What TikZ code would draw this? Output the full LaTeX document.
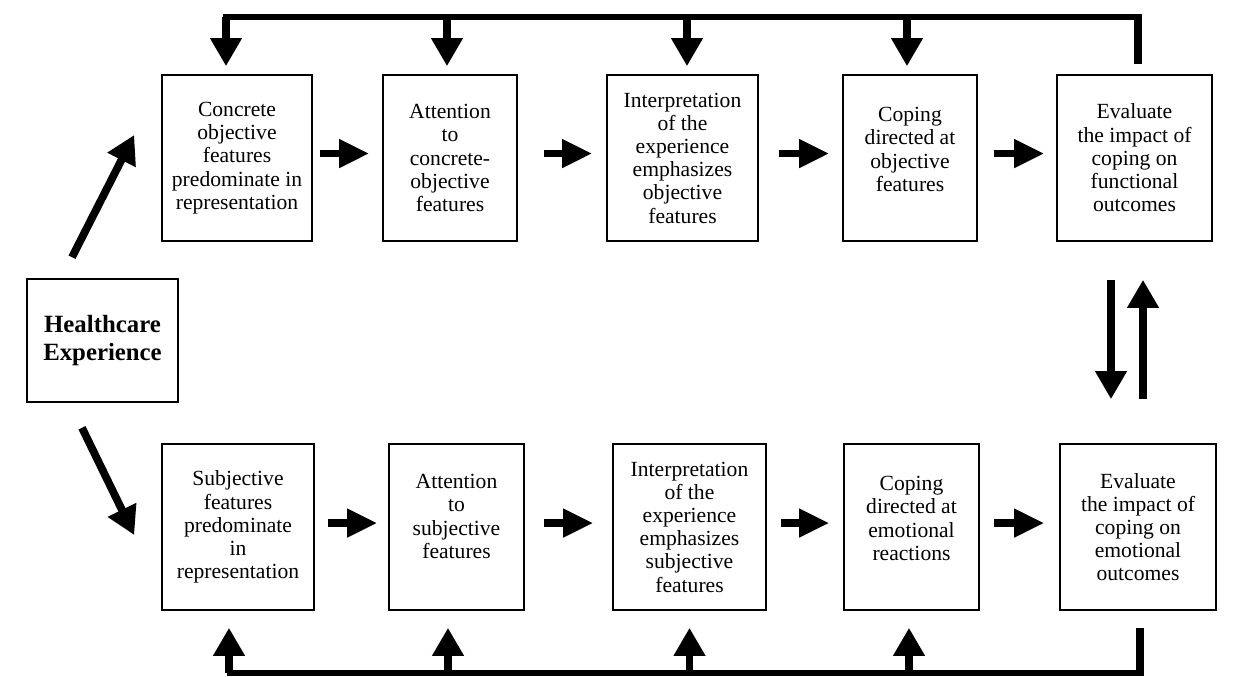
\documentclass[tikz,border=0pt]{standalone}
\usepackage{fontspec}
\setmainfont{Liberation Serif}
\usetikzlibrary{arrows.meta,calc}
\begin{document}
\begin{tikzpicture}[x=0.5pt,y=-0.5pt,
  box/.style={draw, line width=0.8pt, inner sep=0pt, align=center,
    font=\fontsize{10.8}{11.6}\selectfont, minimum height=83pt},
  flow/.style={line width=3.6pt, -{Triangle[width=13.5pt,length=15pt]}},
  big/.style={line width=3.9pt, -{Triangle[width=15pt,length=14pt]}},
  fbline/.style={line width=3pt},
  fbpost/.style={line width=4pt}
]
\useasboundingbox (0,0) rectangle (1253,676);
% top row
\node[box, minimum width=75pt]   (c1) at (237,158)   {Concrete\\objective\\features\\predominate in\\representation};
\node[box, minimum width=67pt]   (c2) at (450,158)   {Attention\\to\\concrete-\\objective\\features};
\node[box, minimum width=75.5pt] (c3) at (682.5,158) {Interpretation\\of the\\experience\\emphasizes\\objective\\features};
\node[box, minimum width=67pt]   (c4) at (910,158)   {Coping\\directed at\\objective\\features\\[-3pt]\mbox{}};
\node[box, minimum width=77.5pt] (c5) at (1134.5,158) {Evaluate\\the impact of\\coping on\\functional\\outcomes};
% bottom row
\node[box, minimum width=76pt]   (s1) at (238,527)   {Subjective\\features\\predominate\\in\\representation};
\node[box, minimum width=67.5pt] (s2) at (456.5,527) {Attention\\to\\subjective\\features\\[-1pt]\mbox{}};
\node[box, minimum width=76.5pt] (s3) at (689.5,527) {Interpretation\\of the\\experience\\emphasizes\\subjective\\features};
\node[box, minimum width=67.5pt] (s4) at (911.5,527) {Coping\\directed at\\emotional\\reactions\\[-3pt]\mbox{}};
\node[box, minimum width=78pt]   (s5) at (1138,527)  {Evaluate\\the impact of\\coping on\\emotional\\outcomes};
% healthcare
\node[box, minimum width=75.5pt, minimum height=61.5pt,
  font=\bfseries\fontsize{12.4}{13.6}\selectfont] (he) at (102.5,340.5) {Healthcare\\Experience};

% flow arrows top
\draw[flow, shorten <=3.5pt, shorten >=6.5pt] ([yshift=2.25pt]c1.east) -- ([yshift=2.25pt]c2.west);
\draw[flow, shorten <=13pt, shorten >=7pt]   ([yshift=2.25pt]c2.east) -- ([yshift=2.25pt]c3.west);
\draw[flow, shorten <=10pt, shorten >=6.5pt] ([yshift=2.25pt]c3.east) -- ([yshift=2.25pt]c4.west);
\draw[flow, shorten <=8pt, shorten >=6pt]    ([yshift=2.25pt]c4.east) -- ([yshift=2.25pt]c5.west);
% flow arrows bottom
\draw[flow, shorten <=6.5pt, shorten >=5.5pt] ([yshift=2pt]s1.east) -- ([yshift=2pt]s2.west);
\draw[flow, shorten <=9.5pt, shorten >=9.5pt] ([yshift=2pt]s2.east) -- ([yshift=2pt]s3.west);
\draw[flow, shorten <=7pt, shorten >=7pt]     ([yshift=2pt]s3.east) -- ([yshift=2pt]s4.west);
\draw[flow, shorten <=7pt, shorten >=7.5pt]   ([yshift=2pt]s4.east) -- ([yshift=2pt]s5.west);

% diagonals from healthcare
\draw[big] ($(he.north)+(-30.5,-21)$) -- ($(c1.west)+(-27,-23)$);
\draw[big] ($(he.south)+(-20.5,25)$) -- ($(s1.west)+(-27,8)$);

% two-way arrows between evaluation boxes
\draw[big] ($(c5.south)+(-23.5,38)$) -- ($(s5.north)+(-27,-44)$);
\draw[big] ($(s5.north)+(5,-44)$) -- ($(c5.south)+(8.5,38)$);

% top feedback loop
\coordinate (topY) at (0,17);
\coordinate (topR) at ($(c5.north)+(3.5,-10)$);
\draw[fbpost] (topR) -- (topR |- 0,14);
\draw[fbline] (topR |- topY) ++(4,0) -- ([xshift=-7pt]c1.north |- topY);
\draw[big, shorten >=4pt] ([xshift=-5.5pt]c1.north |- topY) -- ([xshift=-5.5pt]c1.north);
\draw[big, shorten >=4pt] ([xshift=-1.5pt]c2.north |- topY) -- ([xshift=-1.5pt]c2.north);
\draw[big, shorten >=4pt] ([xshift=2.25pt]c3.north |- topY) -- ([xshift=2.25pt]c3.north);
\draw[big, shorten >=4pt] ([xshift=-1.5pt]c4.north |- topY) -- ([xshift=-1.5pt]c4.north);

% bottom feedback loop
\coordinate (botY) at (0,673);
\coordinate (botR) at ($(s5.south)+(2,17)$);
\draw[fbpost] (botR) -- (botR |- 0,676);
\draw[fbline] (botR |- botY) ++(4,0) -- ([xshift=-5.5pt]s1.south |- botY);
\draw[big, shorten >=8.5pt] ([xshift=-4.5pt]s1.south |- botY) -- ([xshift=-4.5pt]s1.south);
\draw[big, shorten >=8.5pt] ([xshift=-4.25pt]s2.south |- botY) -- ([xshift=-4.25pt]s2.south);
\draw[big, shorten >=8.5pt] ([xshift=0pt]s3.south |- botY) -- ([xshift=0pt]s3.south);
\draw[big, shorten >=8.5pt] ([xshift=-1.25pt]s4.south |- botY) -- ([xshift=-1.25pt]s4.south);
\end{tikzpicture}
\end{document}
